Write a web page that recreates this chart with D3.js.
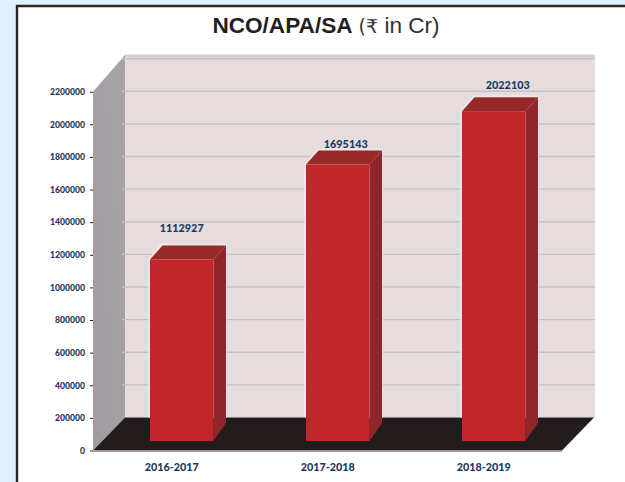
<!DOCTYPE html>
<meta charset="utf-8">
<script src="https://d3js.org/d3.v7.min.js"></script>
<style>
  html, body { margin: 0; padding: 0; background: #dff1fc; overflow: hidden; }
  svg { display: block; }
  .num { font-family: Lato, "Noto Sans", sans-serif; font-weight: 900; fill: #1c3a60; }
</style>
<body>
<script>

// chart data
var years = ["2016-2017", "2017-2018", "2018-2019"];
var values = [1112927, 1695143, 2022103];
var yTicks = [0, 200000, 400000, 600000, 800000, 1000000, 1200000, 1400000, 1600000, 1800000, 2000000, 2200000];

var width = 625,
    height = 482;

var svg = d3.select("body").append("svg")
    .attr("width", width)
    .attr("height", height);

// slightly soft look, the original is a scanned picture
var defs = svg.append("defs");
defs.append("filter").attr("id", "soft")
    .append("feGaussianBlur").attr("stdDeviation", 0.5);

// left wall shading
var wedge = defs.append("linearGradient").attr("id", "wedge")
    .attr("x1", 0).attr("y1", 1).attr("x2", 1).attr("y2", 0);
wedge.append("stop").attr("offset", "0%").style("stop-color", "#a29ca1");
wedge.append("stop").attr("offset", "100%").style("stop-color", "#a8a3a6");

// white panel with the dark frame on top and left
svg.append("rect").attr("x", 17).attr("y", 6).attr("width", width - 17).attr("height", height - 6).style("fill", "#fff");
svg.append("path").attr("d", "M17,482V6H625").style("fill", "none").style("stroke", "#262626").style("stroke-width", 2.4);

// title
var title = svg.append("text")
    .attr("x", 326).attr("y", 33)
    .attr("text-anchor", "middle")
    .style("font-family", "'Liberation Sans', Arial, sans-serif")
    .style("font-size", "22.6px")
    .style("fill", "#333132");
title.append("tspan").style("font-weight", "700").style("fill", "#231f20").text("NCO/APA/SA");
title.append("tspan").style("font-family", "'DejaVu Sans', sans-serif").style("font-size", "19px").text(" (₹");
title.append("tspan").text(" in Cr)");

// scales
var y = d3.scaleLinear().domain([0, 2200000]).range([450.5, 91.7]);
var x = d3.scaleBand().domain(years).range([103.2, 572.3]).paddingInner(0.593).paddingOuter(0.3);

// depth of the fake 3d box
var depthX = 32, depthY = -33;
var plotLeft = 93, plotRight = 562;
var wallTop = 55;

var chart = svg.append("g").attr("filter", "url(#soft)");

// back wall
chart.append("rect")
    .attr("x", plotLeft + depthX).attr("y", wallTop)
    .attr("width", plotRight - plotLeft + 1).attr("height", y(0) + depthY - wallTop)
    .style("fill", "#e6dcde");

// left wall
chart.append("path")
    .attr("d", d3.line()([
        [plotLeft, y(2200000)], [plotLeft + depthX, wallTop],
        [plotLeft + depthX, y(0) + depthY], [plotLeft, y(0)]
    ]))
    .style("fill", "url(#wedge)");

// gridlines on the back wall
chart.selectAll(".grid")
    .data(yTicks.slice(1))
    .enter().append("line")
    .attr("class", "grid")
    .attr("x1", plotLeft + depthX - 3)
    .attr("x2", plotRight + depthX + 1)
    .attr("y1", function(d) { return y(d) + depthY; })
    .attr("y2", function(d) { return y(d) + depthY; })
    .style("stroke", "#c9c0c1")
    .style("stroke-width", 1.4);

// top band of the wall
chart.append("line")
    .attr("x1", plotLeft + depthX).attr("x2", plotRight + depthX + 1)
    .attr("y1", wallTop + 1).attr("y2", wallTop + 1)
    .style("stroke", "#d8cdd0").style("stroke-width", 3);

// floor
chart.append("path")
    .attr("d", d3.line()([
        [plotLeft, y(0)], [plotLeft + depthX, y(0) + depthY],
        [plotRight + depthX, y(0) + depthY], [plotRight, y(0)]
    ]))
    .style("fill", "#211d1e");

// grey edge under the floor
chart.append("line")
    .attr("x1", plotLeft).attr("x2", plotRight)
    .attr("y1", y(0) + 0.8).attr("y2", y(0) + 0.8)
    .style("stroke", "#8d8a8b").style("stroke-width", 1);

// bars stand in the middle of the floor depth
var barLift = -9.5, sideX = 12.5, sideY = -14;
var bars = chart.selectAll(".bar")
    .data(values)
    .enter().append("g")
    .attr("class", "bar");

function left(i) { return x(years[i]); }
function right(i) { return x(years[i]) + x.bandwidth(); }

// pale glow round each bar, only over the wall
bars.append("path")
    .attr("d", function(d, i) {
        return d3.line()([
            [left(i) - 1.5, y(0) + depthY], [left(i) - 1.5, y(d) + barLift - 1],
            [left(i) + sideX - 1, y(d) + barLift + sideY - 2], [right(i) + sideX + 1, y(d) + barLift + sideY - 2],
            [right(i) + sideX + 1, y(0) + depthY]
        ]);
    })
    .style("fill", "#f0e8eb");

bars.append("path")
    .attr("d", function(d, i) {
        return d3.line()([
            [right(i), y(0) + barLift], [right(i), y(d) + barLift],
            [right(i) + sideX, y(d) + barLift + sideY], [right(i) + sideX, y(0) + barLift + sideY - 4]
        ]);
    })
    .style("fill", "#8e2729");

bars.append("path")
    .attr("d", function(d, i) {
        return d3.line()([
            [left(i), y(d) + barLift], [left(i) + sideX, y(d) + barLift + sideY],
            [right(i) + sideX, y(d) + barLift + sideY], [right(i), y(d) + barLift]
        ]);
    })
    .style("fill", "#972b28");

bars.append("rect")
    .attr("x", function(d, i) { return left(i); })
    .attr("y", function(d) { return y(d) + barLift; })
    .attr("width", x.bandwidth())
    .attr("height", function(d) { return y(0) - y(d); })
    .style("fill", "#c1272c");

// value labels sit a little differently above each bar in the original
var labelDx = [0, 8, 14];
var labelDy = [-27.5, -17, -22];
svg.selectAll(".val")
    .data(values)
    .enter().append("text")
    .attr("class", "val num")
    .attr("x", function(d, i) { return x(years[i]) + x.bandwidth() / 2 + labelDx[i]; })
    .attr("y", function(d, i) { return y(d) + barLift + labelDy[i]; })
    .attr("text-anchor", "middle")
    .style("font-size", "10.8px")
    .text(function(d) { return d; });

// y axis
var axis = svg.append("g")
    .attr("transform", "translate(" + plotLeft + ",0)")
    .call(d3.axisLeft(y).tickValues(yTicks).tickFormat(d3.format("d")).tickSize(3).tickPadding(5));
axis.select(".domain").remove();
axis.selectAll("line").style("stroke", "#231f20");
axis.selectAll("text").attr("class", "num").style("font-size", "8.6px");

// year labels
svg.selectAll(".year")
    .data(years)
    .enter().append("text")
    .attr("class", "year num")
    .attr("x", function(d) { return x(d) + x.bandwidth() / 2 - 10; })
    .attr("y", 471)
    .attr("text-anchor", "middle")
    .style("font-size", "10.8px")
    .text(function(d) { return d; });

</script>
</body>
